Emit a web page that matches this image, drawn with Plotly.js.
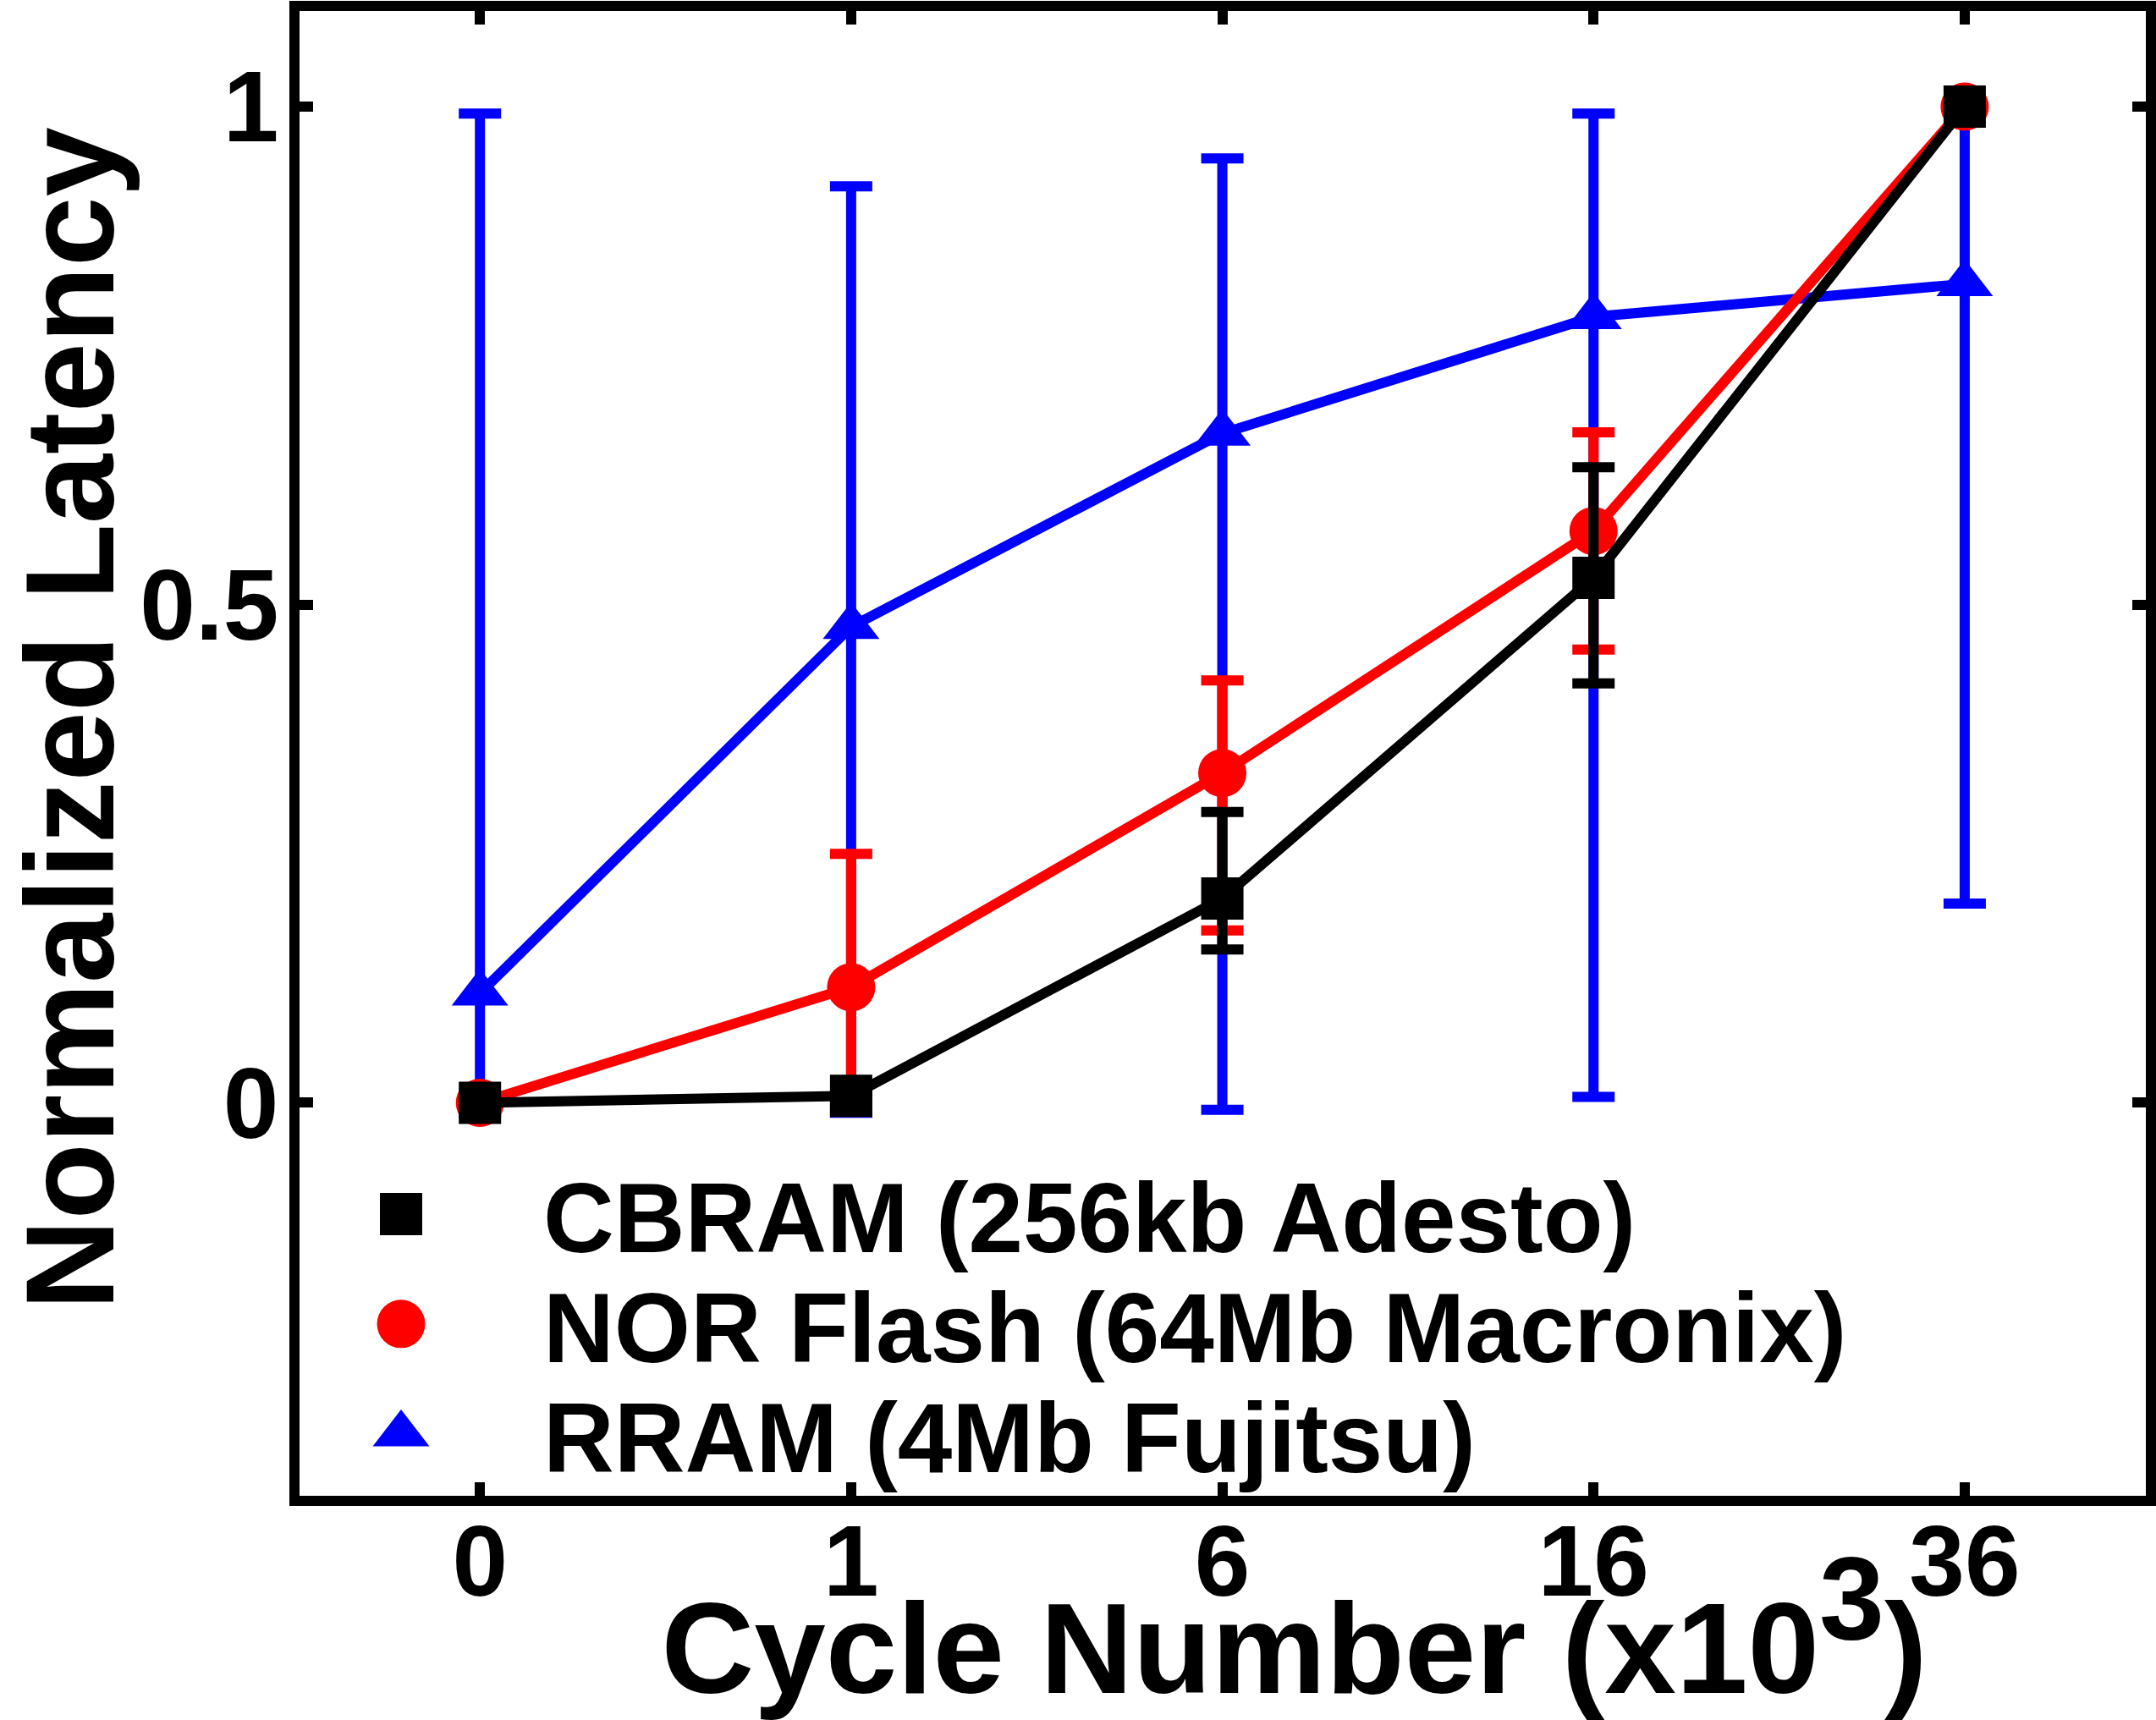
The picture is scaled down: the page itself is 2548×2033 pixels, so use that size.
<!DOCTYPE html>
<html><head><meta charset="utf-8">
<script src="https://cdn.plot.ly/plotly-3.0.1.min.js"></script>
<style>html,body{margin:0;padding:0;background:#fff}</style>
</head><body><div id="chart" style="width:2548px;height:2033px"></div>
<script>
// ---- data ----
const cycles = ['0', '1', '6', '16', '36'];
const seriesNames = ['CBRAM (256kb Adesto)', 'NOR Flash (64Mb Macronix)', 'RRAM (4Mb Fujitsu)'];
const cbram = [0, 0.007, 0.205, 0.527, 1.0];
const cbramHigh = [0, 0.007, 0.292, 0.638, 1.0];
const cbramLow = [0, 0.007, 0.154, 0.421, 1.0];
const nor = [0, 0.116, 0.331, 0.574, 1.0];
const norHigh = [0, 0.25, 0.424, 0.673, 1.0];
const norLow = [0, 0.0, 0.173, 0.455, 1.0];
const rram = [0.11, 0.478, 0.672, 0.789, 0.822];
const rramHigh = [0.993, 0.92, 0.948, 0.993, 0.995];
const rramLow = [-0.01, -0.01, -0.007, 0.006, 0.2];
const yTickVals = [0, 0.5, 1];
const yTickText = ['0', '0.5', '1'];

const FONT = 'Liberation Sans, Arial, sans-serif';
const PAD = '\u200b';   // keeps the following no-break spaces from being trimmed
const NB = '\u00a0';

function lineTrace(y, hi, lo, color) {
  return {
    x: cycles, y: y, type: 'scatter', mode: 'lines', showlegend: false, hoverinfo: 'skip',
    line: {color: color, width: 12},
    error_y: {
      type: 'data', symmetric: false, visible: true,
      array: hi.map((h, i) => h - y[i]),
      arrayminus: lo.map((l, i) => y[i] - l),
      color: color, thickness: 12, width: 25
    }
  };
}
function markerTrace(y, name, symbol, size, color, legendId) {
  return {
    x: cycles, y: y, type: 'scatter', mode: 'markers', name: name, legend: legendId,
    marker: {symbol: symbol, size: size, color: color, line: {width: 0}}
  };
}

const data = [
  lineTrace(rram, rramHigh, rramLow, '#0000ff'),
  markerTrace(rram, seriesNames[2], 'triangle-up', 58, '#0000ff', 'legend3'),
  lineTrace(nor, norHigh, norLow, '#ff0000'),
  markerTrace(nor, seriesNames[1], 'circle', 57, '#ff0000', 'legend2'),
  lineTrace(cbram, cbramHigh, cbramLow, '#000000'),
  markerTrace(cbram, seriesNames[0], 'square', 50, '#000000', 'legend')
];

function legendAt(y) {
  return {
    x: -0.022, y: y, xanchor: 'left', yanchor: 'middle',
    bgcolor: 'rgba(0,0,0,0)', borderwidth: 0, itemwidth: 326,
    font: {family: FONT, size: 116, color: '#000', weight: 'bold'}
  };
}

const axisCommon = {
  showline: true, linewidth: 12, linecolor: '#000', mirror: 'ticks',
  ticks: 'inside', ticklen: 16, tickwidth: 12, tickcolor: '#000',
  showgrid: false, zeroline: false, automargin: false,
  tickfont: {family: FONT, size: 118, color: '#000', weight: 'bold'}
};

const layout = {
  width: 2548, height: 2033,
  margin: {l: 354, r: 12, t: 13, b: 265, pad: 0},
  paper_bgcolor: '#fff', plot_bgcolor: '#fff',
  font: {family: FONT, color: '#000'},
  xaxis: Object.assign({}, axisCommon, {
    type: 'category', range: [-0.486, 4.488], ticklabelstandoff: -36,
    title: {text: PAD + NB + NB + NB + NB + 'Cycle Number (x10<sup><span style="font-size:130%">3</span></sup>)',
            font: {family: FONT, size: 152, color: '#000', weight: 'bold'}, standoff: 50}
  }),
  yaxis: Object.assign({}, axisCommon, {
    range: [-0.3945, 1.096], tickvals: yTickVals, ticktext: yTickText, ticklabelstandoff: -11,
    title: {text: PAD + NB + NB + 'Normalized Latency',
            font: {family: FONT, size: 148, color: '#000', weight: 'bold'}, standoff: 9}
  }),
  legend: legendAt(0.1897),
  legend2: legendAt(0.1157),
  legend3: legendAt(0.0416),
  showlegend: true
};

Plotly.newPlot('chart', data, layout, {staticPlot: true, displayModeBar: false}).then(function (gd) {
  // enlarge legend symbols to the size used in the plot
  gd.querySelectorAll('g.traces').forEach(function (g) {
    const d = g.__data__;
    if (!d || !d[0] || !d[0].trace) return;
    const size = d[0].trace.marker && d[0].trace.marker.size;
    if (!size) return;
    g.querySelectorAll('path.scatterpts').forEach(function (p) {
      const t = p.getAttribute('transform') || '';
      p.setAttribute('transform', t + ' scale(' + (size / 16) + ')');
    });
  });
});
</script>
</body></html>
